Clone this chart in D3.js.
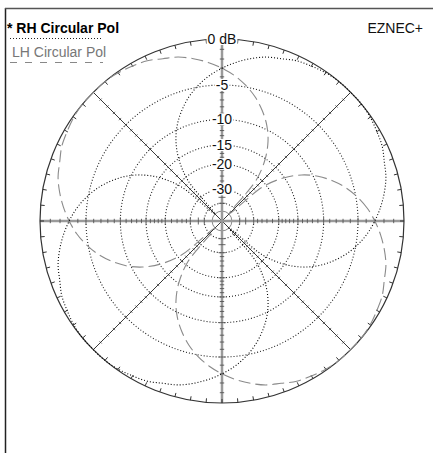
<!DOCTYPE html>
<html>
<head>
<meta charset="utf-8">
<script src="https://cdn.jsdelivr.net/npm/d3@7"></script>
<style>
  html, body { margin: 0; padding: 0; background: #fff; }
  svg { display: block; font-family: "Liberation Sans", Arial, sans-serif; }
</style>
</head>
<body>
<svg id="chart" width="433" height="453"></svg>
<script>
// ---- data ----
const angles = [0,5,10,15,20,25,30,35,40,45,50,55,60,65,70,75,80,85,
  90,95,100,105,110,115,120,125,130,135,140,145,150,155,160,165,170,175,
  180,185,190,195,200,205,210,215,220,225,230,235,240,245,250,255,260,265,
  270,275,280,285,290,295,300,305,310,315,320,325,330,335,340,345,350,355];
const rhGain = [-3.0,-2.3,-1.7,-1.2,-0.9,-0.5,-0.3,-0.1,0,0,0,-0.1,-0.3,-0.5,-0.9,-1.2,-1.7,-2.3,
  -3.0,-3.8,-4.8,-6.0,-7.5,-9.3,-11.7,-15.2,-21.2,-50,-21.2,-15.2,-11.7,-9.3,-7.5,-6.0,-4.8,-3.8,
  -3.0,-2.3,-1.7,-1.2,-0.9,-0.5,-0.3,-0.1,0,0,0,-0.1,-0.3,-0.5,-0.9,-1.2,-1.7,-2.3,
  -3.0,-3.8,-4.8,-6.0,-7.5,-9.3,-11.7,-15.2,-21.2,-50,-21.2,-15.2,-11.7,-9.3,-7.5,-6.0,-4.8,-3.8];
const lhGain = [-3.0,-3.8,-4.8,-6.0,-7.5,-9.3,-11.7,-15.2,-21.2,-50,-21.2,-15.2,-11.7,-9.3,-7.5,-6.0,-4.8,-3.8,
  -3.0,-2.3,-1.7,-1.2,-0.9,-0.5,-0.3,-0.1,0,0,0,-0.1,-0.3,-0.5,-0.9,-1.2,-1.7,-2.3,
  -3.0,-3.8,-4.8,-6.0,-7.5,-9.3,-11.7,-15.2,-21.2,-50,-21.2,-15.2,-11.7,-9.3,-7.5,-6.0,-4.8,-3.8,
  -3.0,-2.3,-1.7,-1.2,-0.9,-0.5,-0.3,-0.1,0,0,0,-0.1,-0.3,-0.5,-0.9,-1.2,-1.7,-2.3];
const ringLevels = [-5,-10,-15,-20,-30,-40];
const labelLevels = [0,-5,-10,-15,-20,-30];
const labelTexts = ["0 dB","-5","-10","-15","-20","-30"];
const tickLevels = [-1,-2,-3,-4,-5,-6,-7,-8,-9,-10,-11,-12,-13,-14,-15,-16,-17,-18,-19,-20,
  -22,-24,-26,-28,-30,-35,-40];
const rimTicks = d3.range(0, 360, 5);
const spokeAngles = [45,135,225,315];
const legendNames = ["* RH Circular Pol","LH Circular Pol"];
const titleText = "EZNEC+";

// ---- layout ----
const cx = 222, cy = 221, R = 182;
const svg = d3.select("#chart");

// ARRL log scale: dB is linear in log(radius)
const dbScale = d3.scaleLog().domain([R * Math.pow(0.89, 30), R]).range([-60, 0]);
const rOf = db => dbScale.invert(db);
const aScale = d3.scaleLinear().domain([0, 360]).range([0, 2 * Math.PI]);
const px = (db, a) => cx + rOf(db) * Math.cos(aScale(a));
const py = (db, a) => cy - rOf(db) * Math.sin(aScale(a));

// frame
svg.append("line").attr("x1",5.5).attr("y1",8).attr("x2",5.5).attr("y2",453)
  .attr("stroke","#222").attr("stroke-width",1.5);
svg.append("line").attr("x1",5).attr("y1",8.5).attr("x2",433).attr("y2",8.5)
  .attr("stroke","#555").attr("stroke-width",1.3);

const g = svg.append("g");

// dB rings (dotted)
g.selectAll("circle.ring").data(ringLevels).join("circle")
  .attr("class","ring").attr("cx",cx).attr("cy",cy).attr("r",d=>rOf(d))
  .attr("fill","none").attr("stroke","#222").attr("stroke-width",1.1)
  .attr("stroke-dasharray","1,2");
// small central circle
g.append("circle").attr("cx",cx).attr("cy",cy).attr("r",rOf(-50))
  .attr("fill","none").attr("stroke","#888").attr("stroke-width",1);

// diagonal spokes
g.selectAll("line.spoke").data(spokeAngles).join("line")
  .attr("x1",cx).attr("y1",cy).attr("x2",a=>px(0,a)).attr("y2",a=>py(0,a))
  .attr("stroke","#222").attr("stroke-width",0.9);
spokeAngles.forEach(a => {
  const t = aScale(a);
  g.selectAll(null).data(tickLevels.filter(d=>d%2===0 || d>-10)).join("line")
    .attr("x1",d=>px(d,a) - 1.6*Math.sin(t)).attr("y1",d=>py(d,a) - 1.6*Math.cos(t))
    .attr("x2",d=>px(d,a) + 1.6*Math.sin(t)).attr("y2",d=>py(d,a) + 1.6*Math.cos(t))
    .attr("stroke","#333").attr("stroke-width",0.7);
});

// main axes (thick gray)
g.append("line").attr("x1",cx-R).attr("y1",cy).attr("x2",cx+R).attr("y2",cy)
  .attr("stroke","#9a9a9a").attr("stroke-width",2.5);
g.append("line").attr("x1",cx).attr("y1",cy-R).attr("x2",cx).attr("y2",cy+R)
  .attr("stroke","#9a9a9a").attr("stroke-width",2.5);
[0,90,180,270].forEach(a => {
  const t = aScale(a);
  const L = d => (d%5===0 ? 3.5 : 2.2);
  g.selectAll(null).data(tickLevels).join("line")
    .attr("x1",d=>px(d,a) - L(d)*Math.sin(t)).attr("y1",d=>py(d,a) - L(d)*Math.cos(t))
    .attr("x2",d=>px(d,a) + L(d)*Math.sin(t)).attr("y2",d=>py(d,a) + L(d)*Math.cos(t))
    .attr("stroke","#555").attr("stroke-width",0.9);
});

// outer circle with ticks
g.append("circle").attr("cx",cx).attr("cy",cy).attr("r",R)
  .attr("fill","none").attr("stroke","#333").attr("stroke-width",1.2);
g.selectAll("line.rim").data(rimTicks).join("line").attr("class","rim")
  .attr("x1",a=>px(0,a)).attr("y1",a=>py(0,a))
  .attr("x2",a=>cx+(R-4)*Math.cos(aScale(a))).attr("y2",a=>cy-(R-4)*Math.sin(aScale(a)))
  .attr("stroke","#333").attr("stroke-width",1);

// patterns
const rhData = angles.map((a,i)=>({a, g: rhGain[i]}));
const lhData = angles.map((a,i)=>({a, g: lhGain[i]}));
const line = d3.line().x(d=>px(d.g,d.a)).y(d=>py(d.g,d.a))
  .curve(d3.curveCatmullRomClosed.alpha(0.5));
g.append("path").datum(lhData).attr("d",line)
  .attr("fill","none").attr("stroke","#8a8a8a").attr("stroke-width",1.1)
  .attr("stroke-dasharray","12,5");
g.append("path").datum(rhData).attr("d",line)
  .attr("fill","none").attr("stroke","#000").attr("stroke-width",1.1)
  .attr("stroke-dasharray","1,2");

// ring labels with white background
labelLevels.forEach((lv,i) => {
  const y = cy - rOf(lv);
  const t = g.append("text").attr("x",cx).attr("y",y).attr("text-anchor","middle")
    .attr("dominant-baseline","central").attr("font-size","14px").attr("fill","#111")
    .text(labelTexts[i]);
  const bb = t.node().getBBox();
  g.insert("rect", () => t.node()).attr("x",bb.x-1).attr("y",y-6).attr("width",bb.width+2).attr("height",12)
    .attr("fill","#fff");
});

// legend
svg.append("text").attr("x",7).attr("y",33).attr("font-size","14px").attr("font-weight","bold")
  .attr("fill","#000").text(legendNames[0]);
svg.append("line").attr("x1",10).attr("y1",38.5).attr("x2",103).attr("y2",38.5)
  .attr("stroke","#222").attr("stroke-width",1).attr("stroke-dasharray","1,2");
svg.append("text").attr("x",12).attr("y",57).attr("font-size","14px")
  .attr("fill","#777").text(legendNames[1]);
svg.append("line").attr("x1",10).attr("y1",62.5).attr("x2",103).attr("y2",62.5)
  .attr("stroke","#888").attr("stroke-width",1).attr("stroke-dasharray","7,8");

svg.append("text").attr("x",423).attr("y",33).attr("text-anchor","end").attr("font-size","14px")
  .attr("fill","#111").text(titleText);
</script>
</body>
</html>
